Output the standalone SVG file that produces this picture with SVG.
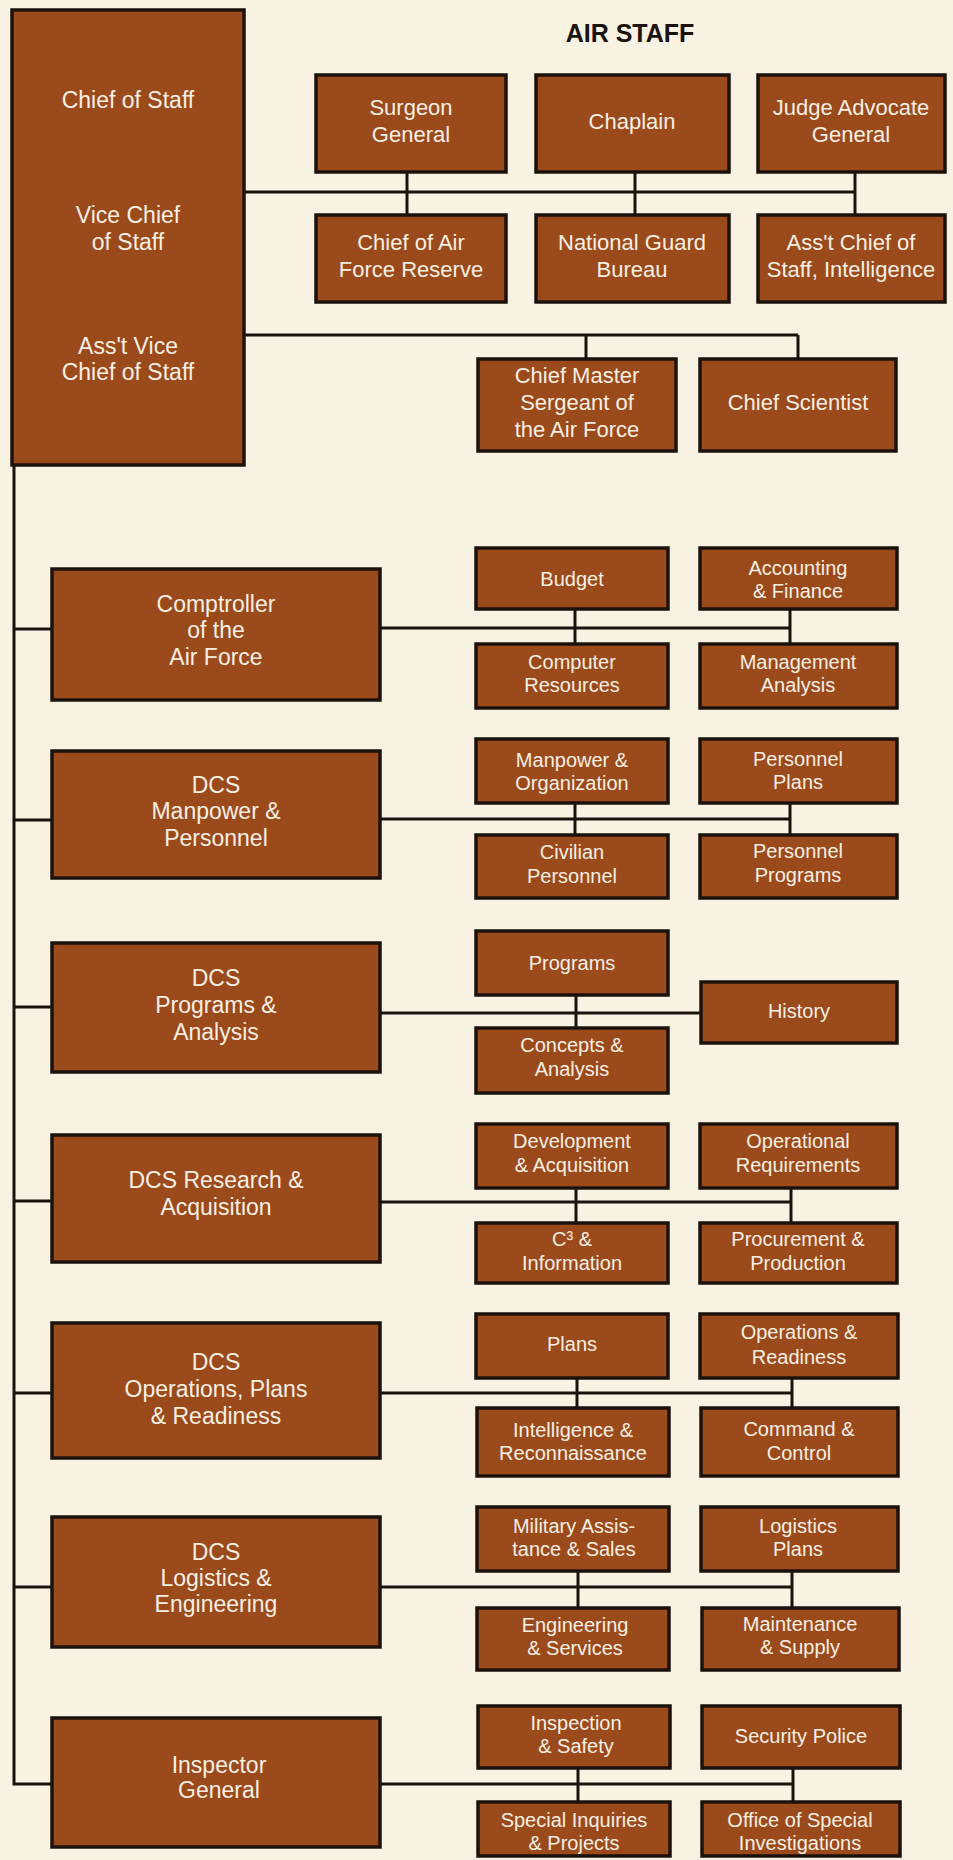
<svg xmlns="http://www.w3.org/2000/svg" width="953" height="1860" viewBox="0 0 953 1860">
<style>
.bg{fill:#f7f2e2}
.box{fill:#9b4a1c;stroke:#1c120c;stroke-width:3.5}
.t{font-family:"Liberation Sans",Arial,sans-serif;fill:#f6efe2;text-anchor:middle}
.big{font-size:23px}
.top{font-size:22px}
.sm{font-size:20px}
.title{font-family:"Liberation Sans",Arial,sans-serif;font-weight:bold;font-size:25px;fill:#1c120c;text-anchor:middle}
.ln{fill:none;stroke:#1c120c;stroke-width:3}
</style>
<rect class="bg" x="0" y="0" width="953" height="1860"/>
<text class="title" x="630" y="42">AIR STAFF</text>

<g id="connectors">
<path class="ln" d="M14,463V1784H52"/>
<path class="ln" d="M14,629H52M14,820H52M14,1007H52M14,1201H52M14,1393H52M14,1587H52"/>
<path class="ln" d="M244,192H855M407,172V215M635,172V215M855,172V215"/>
<path class="ln" d="M244,335H798M586,335V359M798,335V359"/>
<path class="ln" d="M380,628H790M575,609V644M790,609V644"/>
<path class="ln" d="M380,819H790M575,803V835M790,803V835"/>
<path class="ln" d="M380,1013H701M576,995V1028"/>
<path class="ln" d="M380,1202H791M576,1188V1223M791,1188V1223"/>
<path class="ln" d="M380,1393H792M577,1378V1408M792,1378V1408"/>
<path class="ln" d="M380,1587H792M578,1571V1608M792,1571V1608"/>
<path class="ln" d="M380,1784H793M578,1768V1802M793,1768V1802"/>
</g>

<g id="chief-of-staff">
<rect class="box" x="12" y="10" width="232" height="455"/>
<text class="t big" x="128" y="108">Chief of Staff</text>
<text class="t big" x="128" y="223">Vice Chief</text>
<text class="t big" x="128" y="250">of Staff</text>
<text class="t big" x="128" y="354">Ass't Vice</text>
<text class="t big" x="128" y="380">Chief of Staff</text>
</g>

<g id="surgeon-general">
<rect class="box" x="316" y="75" width="190" height="97"/>
<text class="t top" x="411" y="115">Surgeon</text>
<text class="t top" x="411" y="142">General</text>
</g>
<g id="chaplain">
<rect class="box" x="536" y="75" width="193" height="97"/>
<text class="t top" x="632" y="129">Chaplain</text>
</g>
<g id="judge-advocate-general">
<rect class="box" x="758" y="75" width="187" height="97"/>
<text class="t top" x="851" y="115">Judge Advocate</text>
<text class="t top" x="851" y="142">General</text>
</g>
<g id="chief-air-force-reserve">
<rect class="box" x="316" y="215" width="190" height="87"/>
<text class="t top" x="411" y="250">Chief of Air</text>
<text class="t top" x="411" y="277">Force Reserve</text>
</g>
<g id="national-guard-bureau">
<rect class="box" x="536" y="215" width="193" height="87"/>
<text class="t top" x="632" y="250">National Guard</text>
<text class="t top" x="632" y="277">Bureau</text>
</g>
<g id="asst-chief-intelligence">
<rect class="box" x="758" y="215" width="187" height="87"/>
<text class="t top" x="851" y="250">Ass't Chief of</text>
<text class="t top" x="851" y="277">Staff, Intelligence</text>
</g>
<g id="chief-master-sergeant">
<rect class="box" x="478" y="359" width="198" height="92"/>
<text class="t top" x="577" y="383">Chief Master</text>
<text class="t top" x="577" y="410">Sergeant of</text>
<text class="t top" x="577" y="437">the Air Force</text>
</g>
<g id="chief-scientist">
<rect class="box" x="700" y="359" width="196" height="92"/>
<text class="t top" x="798" y="410">Chief Scientist</text>
</g>

<g id="comptroller">
<rect class="box" x="52" y="569" width="328" height="131"/>
<text class="t big" x="216" y="612">Comptroller</text>
<text class="t big" x="216" y="638">of the</text>
<text class="t big" x="216" y="665">Air Force</text>
</g>
<g id="budget">
<rect class="box" x="476" y="548" width="192" height="61"/>
<text class="t sm" x="572" y="586">Budget</text>
</g>
<g id="accounting-finance">
<rect class="box" x="700" y="548" width="197" height="61"/>
<text class="t sm" x="798" y="575">Accounting</text>
<text class="t sm" x="798" y="598">&amp; Finance</text>
</g>
<g id="computer-resources">
<rect class="box" x="476" y="644" width="192" height="64"/>
<text class="t sm" x="572" y="669">Computer</text>
<text class="t sm" x="572" y="692">Resources</text>
</g>
<g id="management-analysis">
<rect class="box" x="700" y="644" width="197" height="64"/>
<text class="t sm" x="798" y="669">Management</text>
<text class="t sm" x="798" y="692">Analysis</text>
</g>

<g id="dcs-manpower-personnel">
<rect class="box" x="52" y="751" width="328" height="127"/>
<text class="t big" x="216" y="793">DCS</text>
<text class="t big" x="216" y="819">Manpower &amp;</text>
<text class="t big" x="216" y="846">Personnel</text>
</g>
<g id="manpower-organization">
<rect class="box" x="476" y="739" width="192" height="64"/>
<text class="t sm" x="572" y="767">Manpower &amp;</text>
<text class="t sm" x="572" y="790">Organization</text>
</g>
<g id="personnel-plans">
<rect class="box" x="700" y="739" width="197" height="64"/>
<text class="t sm" x="798" y="766">Personnel</text>
<text class="t sm" x="798" y="789">Plans</text>
</g>
<g id="civilian-personnel">
<rect class="box" x="476" y="835" width="192" height="63"/>
<text class="t sm" x="572" y="859">Civilian</text>
<text class="t sm" x="572" y="883">Personnel</text>
</g>
<g id="personnel-programs">
<rect class="box" x="700" y="835" width="197" height="63"/>
<text class="t sm" x="798" y="858">Personnel</text>
<text class="t sm" x="798" y="882">Programs</text>
</g>

<g id="dcs-programs-analysis">
<rect class="box" x="52" y="943" width="328" height="129"/>
<text class="t big" x="216" y="986">DCS</text>
<text class="t big" x="216" y="1013">Programs &amp;</text>
<text class="t big" x="216" y="1040">Analysis</text>
</g>
<g id="programs">
<rect class="box" x="476" y="931" width="192" height="64"/>
<text class="t sm" x="572" y="970">Programs</text>
</g>
<g id="history">
<rect class="box" x="701" y="982" width="196" height="61"/>
<text class="t sm" x="799" y="1018">History</text>
</g>
<g id="concepts-analysis">
<rect class="box" x="476" y="1028" width="192" height="65"/>
<text class="t sm" x="572" y="1052">Concepts &amp;</text>
<text class="t sm" x="572" y="1076">Analysis</text>
</g>

<g id="dcs-research-acquisition">
<rect class="box" x="52" y="1135" width="328" height="127"/>
<text class="t big" x="216" y="1188">DCS Research &amp;</text>
<text class="t big" x="216" y="1215">Acquisition</text>
</g>
<g id="development-acquisition">
<rect class="box" x="476" y="1124" width="192" height="64"/>
<text class="t sm" x="572" y="1148">Development</text>
<text class="t sm" x="572" y="1172">&amp; Acquisition</text>
</g>
<g id="operational-requirements">
<rect class="box" x="700" y="1124" width="197" height="64"/>
<text class="t sm" x="798" y="1148">Operational</text>
<text class="t sm" x="798" y="1172">Requirements</text>
</g>
<g id="c3-information">
<rect class="box" x="476" y="1223" width="192" height="60"/>
<text class="t sm" x="572" y="1246">C³ &amp;</text>
<text class="t sm" x="572" y="1270">Information</text>
</g>
<g id="procurement-production">
<rect class="box" x="700" y="1223" width="197" height="60"/>
<text class="t sm" x="798" y="1246">Procurement &amp;</text>
<text class="t sm" x="798" y="1270">Production</text>
</g>

<g id="dcs-operations-plans-readiness">
<rect class="box" x="52" y="1323" width="328" height="135"/>
<text class="t big" x="216" y="1370">DCS</text>
<text class="t big" x="216" y="1397">Operations, Plans</text>
<text class="t big" x="216" y="1424">&amp; Readiness</text>
</g>
<g id="plans">
<rect class="box" x="476" y="1314" width="192" height="64"/>
<text class="t sm" x="572" y="1351">Plans</text>
</g>
<g id="operations-readiness">
<rect class="box" x="700" y="1314" width="198" height="64"/>
<text class="t sm" x="799" y="1339">Operations &amp;</text>
<text class="t sm" x="799" y="1364">Readiness</text>
</g>
<g id="intelligence-reconnaissance">
<rect class="box" x="477" y="1408" width="192" height="68"/>
<text class="t sm" x="573" y="1437">Intelligence &amp;</text>
<text class="t sm" x="573" y="1460">Reconnaissance</text>
</g>
<g id="command-control">
<rect class="box" x="701" y="1408" width="197" height="68"/>
<text class="t sm" x="799" y="1436">Command &amp;</text>
<text class="t sm" x="799" y="1460">Control</text>
</g>

<g id="dcs-logistics-engineering">
<rect class="box" x="52" y="1517" width="328" height="130"/>
<text class="t big" x="216" y="1560">DCS</text>
<text class="t big" x="216" y="1586">Logistics &amp;</text>
<text class="t big" x="216" y="1612">Engineering</text>
</g>
<g id="military-assistance-sales">
<rect class="box" x="477" y="1507" width="192" height="64"/>
<text class="t sm" x="574" y="1533">Military Assis-</text>
<text class="t sm" x="574" y="1556">tance &amp; Sales</text>
</g>
<g id="logistics-plans">
<rect class="box" x="701" y="1507" width="197" height="64"/>
<text class="t sm" x="798" y="1533">Logistics</text>
<text class="t sm" x="798" y="1556">Plans</text>
</g>
<g id="engineering-services">
<rect class="box" x="477" y="1608" width="192" height="62"/>
<text class="t sm" x="575" y="1632">Engineering</text>
<text class="t sm" x="575" y="1655">&amp; Services</text>
</g>
<g id="maintenance-supply">
<rect class="box" x="702" y="1608" width="197" height="62"/>
<text class="t sm" x="800" y="1631">Maintenance</text>
<text class="t sm" x="800" y="1654">&amp; Supply</text>
</g>

<g id="inspector-general">
<rect class="box" x="52" y="1718" width="328" height="129"/>
<text class="t big" x="219" y="1773">Inspector</text>
<text class="t big" x="219" y="1798">General</text>
</g>
<g id="inspection-safety">
<rect class="box" x="478" y="1706" width="192" height="62"/>
<text class="t sm" x="576" y="1730">Inspection</text>
<text class="t sm" x="576" y="1753">&amp; Safety</text>
</g>
<g id="security-police">
<rect class="box" x="702" y="1706" width="198" height="62"/>
<text class="t sm" x="801" y="1743">Security Police</text>
</g>
<g id="special-inquiries-projects">
<rect class="box" x="478" y="1802" width="192" height="54"/>
<text class="t sm" x="574" y="1827">Special Inquiries</text>
<text class="t sm" x="574" y="1850">&amp; Projects</text>
</g>
<g id="office-special-investigations">
<rect class="box" x="702" y="1802" width="198" height="54"/>
<text class="t sm" x="800" y="1827">Office of Special</text>
<text class="t sm" x="800" y="1850">Investigations</text>
</g>
</svg>
